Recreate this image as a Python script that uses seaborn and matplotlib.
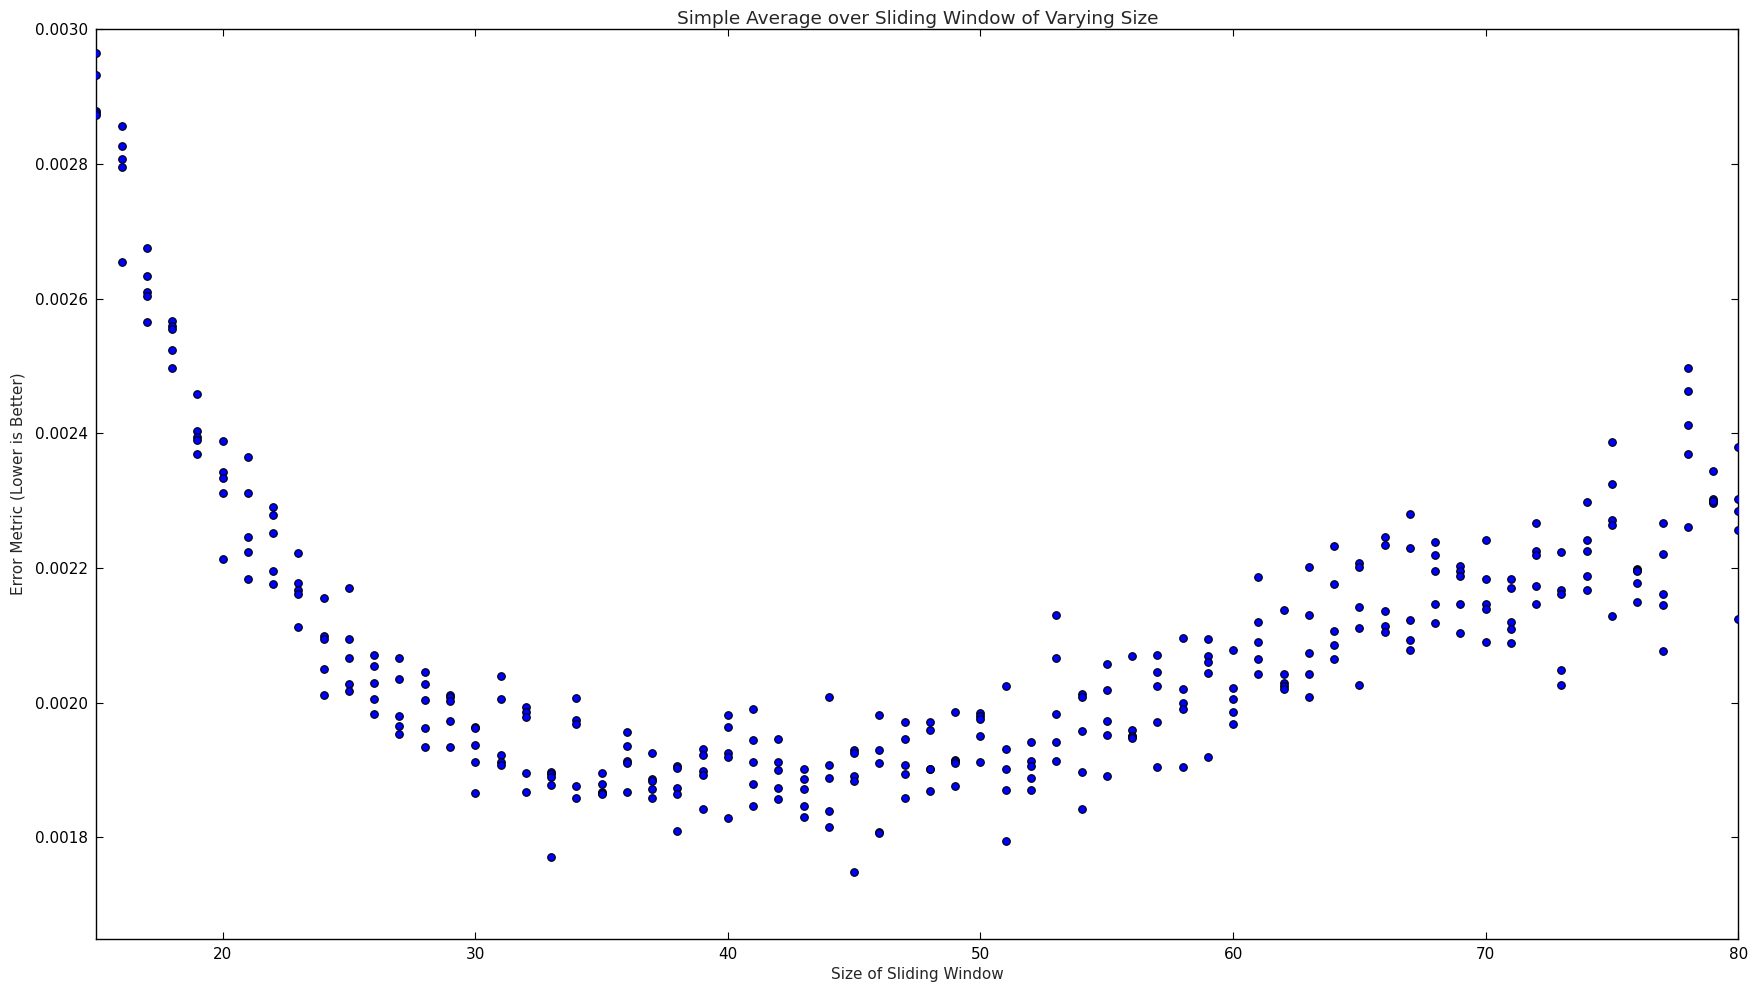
import numpy as np
import pandas as pd
import matplotlib
matplotlib.use('Agg')
import matplotlib.pyplot as plt
import seaborn as sns

# window sizes tried, five runs each
windows = list(range(15, 81))

# error metric per run, in units of 1e-4
errors_e4 = [
    [29.64, 29.32, 28.78, 28.75, 28.72],  # 15
    [28.56, 28.26, 28.07, 27.96, 26.54],
    [26.75, 26.33, 26.10, 26.04, 25.65],
    [25.66, 25.60, 25.55, 25.24, 24.97],
    [24.59, 24.03, 23.94, 23.90, 23.70],
    [23.88, 23.42, 23.33, 23.11, 22.14],  # 20
    [23.65, 23.12, 22.46, 22.24, 21.83],
    [22.91, 22.79, 22.52, 21.95, 21.77],
    [22.23, 21.78, 21.68, 21.62, 21.13],
    [21.56, 20.99, 20.94, 20.50, 20.11],
    [21.71, 20.95, 20.67, 20.28, 20.17],  # 25
    [20.71, 20.54, 20.30, 20.06, 19.83],
    [20.67, 20.36, 19.81, 19.65, 19.54],
    [20.46, 20.28, 20.04, 19.62, 19.35],
    [20.12, 20.08, 20.03, 19.73, 19.34],
    [19.64, 19.62, 19.38, 19.12, 18.66],  # 30
    [20.40, 20.05, 19.23, 19.12, 19.08],
    [19.94, 19.86, 19.79, 18.95, 18.68],
    [18.97, 18.94, 18.90, 18.78, 17.71],
    [20.07, 19.75, 19.68, 18.76, 18.58],
    [18.95, 18.79, 18.68, 18.66, 18.64],  # 35
    [19.56, 19.36, 19.13, 19.10, 18.68],
    [19.25, 18.87, 18.84, 18.72, 18.58],
    [19.06, 19.03, 18.73, 18.64, 18.09],
    [19.32, 19.23, 18.99, 18.92, 18.43],
    [19.82, 19.64, 19.26, 19.20, 18.29],  # 40
    [19.90, 19.45, 19.12, 18.79, 18.46],
    [19.46, 19.12, 19.00, 18.74, 18.57],
    [19.01, 18.87, 18.72, 18.46, 18.30],
    [20.08, 19.07, 18.88, 18.39, 18.15],
    [19.30, 19.25, 18.91, 18.84, 17.48],  # 45
    [19.82, 19.30, 19.11, 18.08, 18.06],
    [19.71, 19.46, 19.08, 18.94, 18.59],
    [19.71, 19.60, 19.02, 19.01, 18.69],
    [19.86, 19.15, 19.13, 19.11, 18.77],
    [19.85, 19.81, 19.76, 19.51, 19.12],  # 50
    [20.25, 19.31, 19.01, 18.70, 17.95],
    [19.41, 19.13, 19.06, 18.89, 18.70],
    [21.31, 20.67, 19.83, 19.42, 19.13],
    [20.13, 20.08, 19.58, 18.97, 18.43],
    [20.58, 20.19, 19.73, 19.52, 18.91],  # 55
    [20.69, 19.60, 19.51, 19.50, 19.48],
    [20.71, 20.46, 20.25, 19.72, 19.04],
    [20.96, 20.21, 19.99, 19.91, 19.04],
    [20.94, 20.69, 20.61, 20.44, 19.20],
    [20.78, 20.22, 20.05, 19.87, 19.68],  # 60
    [21.87, 21.20, 20.90, 20.65, 20.43],
    [21.38, 20.43, 20.29, 20.25, 20.20],
    [22.02, 21.31, 20.74, 20.43, 20.09],
    [22.33, 21.76, 21.07, 20.85, 20.65],
    [22.07, 22.02, 21.42, 21.11, 20.26],  # 65
    [22.46, 22.34, 21.36, 21.14, 21.05],
    [22.80, 22.29, 21.23, 20.93, 20.78],
    [22.38, 22.19, 21.96, 21.46, 21.19],
    [22.03, 21.95, 21.88, 21.47, 21.04],
    [22.42, 21.84, 21.47, 21.39, 20.90],  # 70
    [21.84, 21.70, 21.20, 21.09, 20.88],
    [22.67, 22.25, 22.20, 21.73, 21.47],
    [22.24, 21.67, 21.61, 20.48, 20.26],
    [22.98, 22.42, 22.25, 21.88, 21.67],
    [23.87, 23.25, 22.71, 22.64, 21.29],  # 75
    [21.99, 21.97, 21.95, 21.78, 21.50],
    [22.67, 22.21, 21.61, 21.45, 20.77],
    [24.97, 24.63, 24.13, 23.69, 22.61],
    [23.44, 23.02, 23.00, 22.97, 22.99],
    [23.80, 23.02, 22.84, 22.57, 21.24],  # 80
]

x_ticks = [20, 30, 40, 50, 60, 70, 80]
y_ticks = [0.0018, 0.0020, 0.0022, 0.0024, 0.0026, 0.0028, 0.0030]

rows = [(w, e * 1e-4) for w, runs in zip(windows, errors_e4) for e in runs]
df = pd.DataFrame(rows, columns=['window', 'error'])

sns.set_style('ticks')
plt.rcParams['font.family'] = ['DejaVu Sans']
plt.rcParams['font.size'] = 11

fig = plt.figure(figsize=(17.58, 9.85), dpi=100)
ax = fig.add_axes([0.0548, 0.0472, 0.934, 0.9232])

sns.scatterplot(data=df, x='window', y='error', color='blue',
                edgecolor='black', linewidth=0.8, s=30, ax=ax, zorder=3)

ax.set_xlim(15, 80)
ax.set_ylim(0.00165, 0.0030)
ax.set_xticks(x_ticks)
ax.set_yticks(y_ticks)
ax.set_yticklabels([f'{v:.4f}' for v in y_ticks])

for s in ax.spines.values():
    s.set_color('black')
    s.set_linewidth(1.0)
ax.tick_params(direction='in', length=5, width=0.8, color='black',
               top=True, right=True, labelsize=11, labelcolor='black', pad=6)

ax.set_title('Simple Average over Sliding Window of Varying Size', fontsize=13.3, pad=4)
ax.set_xlabel('Size of Sliding Window', fontsize=11, labelpad=4)
ax.set_ylabel('Error Metric (Lower is Better)', fontsize=11, labelpad=7)

fig.savefig('out.png', dpi=100, facecolor='white')
